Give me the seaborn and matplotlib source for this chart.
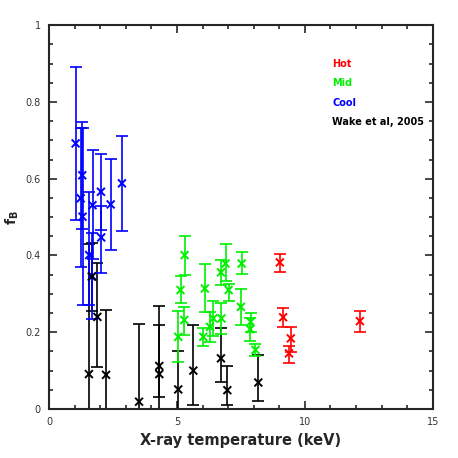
import matplotlib
matplotlib.use("Agg")
import matplotlib.pyplot as plt
import numpy as np
import pandas as pd
import seaborn as sns
from matplotlib.ticker import MultipleLocator, FuncFormatter

# Hot
hot_t = [9.02, 9.15, 9.45, 9.38, 12.15]
hot_f = [0.382, 0.239, 0.184, 0.145, 0.229]
hot_lo = [0.024, 0.025, 0.035, 0.026, 0.028]
hot_hi = [0.022, 0.023, 0.030, 0.019, 0.027]

# Mid
mid_t = [5.30, 5.14, 5.29, 5.05, 6.09, 6.03, 6.29, 6.42, 6.74, 6.72, 6.90, 7.02,
         7.53, 7.50, 7.88, 7.86, 8.07]
mid_f = [0.401, 0.310, 0.232, 0.188, 0.314, 0.188, 0.214, 0.236, 0.236, 0.356,
         0.379, 0.310, 0.379, 0.266, 0.227, 0.208, 0.154]
mid_lo = [0.052, 0.035, 0.039, 0.065, 0.061, 0.023, 0.040, 0.045, 0.040, 0.033,
          0.046, 0.029, 0.028, 0.047, 0.026, 0.030, 0.016]
mid_hi = [0.050, 0.036, 0.034, 0.068, 0.063, 0.022, 0.040, 0.045, 0.040, 0.032,
          0.052, 0.016, 0.029, 0.046, 0.024, 0.030, 0.015]

# Cool
cool_t = [1.04, 1.30, 1.24, 1.31, 1.70, 2.03, 2.41, 2.85, 2.04, 1.57, 1.69]
cool_f = [0.692, 0.609, 0.549, 0.501, 0.531, 0.566, 0.533, 0.588, 0.447, 0.401, 0.346]
cool_lo = [0.200, 0.139, 0.180, 0.230, 0.140, 0.100, 0.119, 0.124, 0.092, 0.131, 0.112]
cool_hi = [0.200, 0.139, 0.184, 0.230, 0.143, 0.098, 0.118, 0.123, 0.082, 0.165, 0.112]

# Wake et al, 2005
wake_t = [1.56, 1.67, 1.89, 2.23, 3.52, 4.31, 4.31, 5.05, 5.64, 6.72, 6.97, 8.18]
wake_f = [0.091, 0.345, 0.240, 0.089, 0.019, 0.112, 0.091, 0.051, 0.100, 0.132, 0.049, 0.069]
wake_lo = [0.340, 0.090, 0.130, 0.170, 0.200, 0.082, 0.130, 0.100, 0.090, 0.062, 0.039, 0.049]
wake_hi = [0.340, 0.087, 0.140, 0.170, 0.202, 0.157, 0.129, 0.100, 0.120, 0.078, 0.063, 0.071]

groups = [
    ("Hot", "#ff0000", hot_t, hot_f, hot_lo, hot_hi),
    ("Mid", "#00f000", mid_t, mid_f, mid_lo, mid_hi),
    ("Cool", "#0000ff", cool_t, cool_f, cool_lo, cool_hi),
    ("Wake et al, 2005", "#000000", wake_t, wake_f, wake_lo, wake_hi),
]

rows = []
for name, col, t, f, lo, hi in groups:
    for i in range(len(t)):
        rows.append({"T": t[i], "f": f[i], "grp": name})
df = pd.DataFrame(rows)

sns.set_style("ticks")
plt.rcParams['font.family'] = ['DejaVu Sans']

fig = plt.figure(figsize=(4.58, 4.58), dpi=100)
ax = fig.add_axes([0.107, 0.107, 0.838, 0.838])

# error bars first, black drawn last
for name, col, t, f, lo, hi in groups[::-1]:
    ax.errorbar(t, f, yerr=[lo, hi], fmt="none", ecolor=col, elinewidth=1.2,
                capsize=4.3, capthick=1.2, zorder=2)

pal = {g[0]: g[1] for g in groups}
sns.scatterplot(data=df, x="T", y="f", hue="grp", palette=pal, marker="x",
                s=32, linewidth=1.4, legend=False, ax=ax, zorder=3)

ax.set_xlim(0, 15)
ax.set_ylim(0, 1)
ax.xaxis.set_major_locator(MultipleLocator(5))
ax.xaxis.set_minor_locator(MultipleLocator(1))
ax.yaxis.set_major_locator(MultipleLocator(0.2))
ax.yaxis.set_minor_locator(MultipleLocator(0.05))
ax.xaxis.set_major_formatter(FuncFormatter(lambda v, p: "%g" % v))
ax.yaxis.set_major_formatter(FuncFormatter(lambda v, p: "%g" % v))
ax.tick_params(which="both", direction="in", top=True, right=True, width=1.2,
               labelsize=7, labelcolor="#333333", pad=6)
ax.tick_params(which="major", length=6)
ax.tick_params(which="minor", length=3)
for s in ax.spines.values():
    s.set_linewidth(1.5)

ax.set_xlabel("X-ray temperature (keV)", fontsize=10.5, fontweight="bold", labelpad=4)
ax.set_ylabel(r"$\mathbf{f_B}$", fontsize=10, labelpad=3)

for i, (name, col, t, f, lo, hi) in enumerate(groups):
    ax.text(0.738, 0.9 - i * 0.051, name, color=col, fontsize=7, fontweight="bold",
            transform=ax.transAxes, va="center", ha="left")

fig.savefig("out.png", dpi=100)
